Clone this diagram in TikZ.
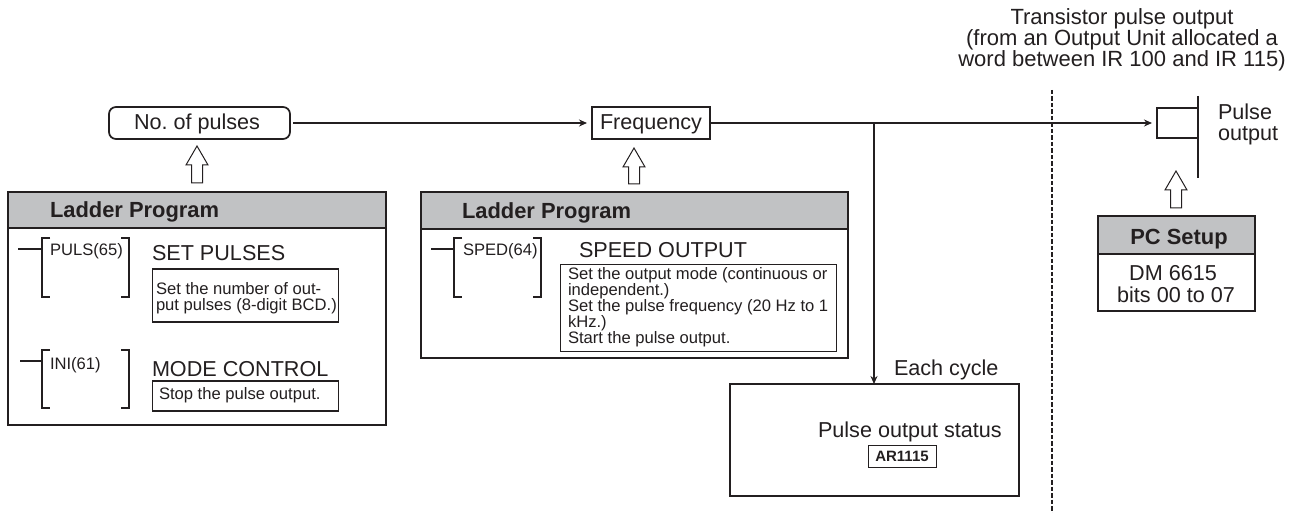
\documentclass[tikz,border=0pt]{standalone}
\usepackage{fontspec}
\setmainfont{Liberation Sans}
\usetikzlibrary{arrows.meta}
\frenchspacing
\definecolor{ink}{HTML}{231F20}
\definecolor{headgrey}{HTML}{C1C2C4}
\newcommand{\bigfs}{\fontsize{21.6}{21}\selectfont\lineskiplimit=-50pt\relax}
\newcommand{\titlefs}{\fontsize{22}{21}\selectfont\lineskiplimit=-50pt\relax}
\newcommand{\smallfs}{\fontsize{16.6}{16}\selectfont\lineskiplimit=-50pt\relax}
\tikzset{
  every node/.style={inner sep=0pt,outer sep=0pt,text=ink},
  big/.style={font=\bigfs,anchor=base west},
  bigc/.style={font=\bigfs,anchor=base},
  heading/.style={font=\fontsize{21.9}{21}\selectfont\bfseries,anchor=base west},
  small/.style={font=\smallfs,anchor=base west},
  boxed/.style={draw=ink,anchor=north west,line width=1.7pt},
  thinbox/.style={draw=ink,anchor=north west,line width=1pt},
  header/.style={draw=ink,fill=headgrey,anchor=north west,line width=1.7pt},
  wire/.style={draw=ink,line width=1.3pt},
  flow/.style={wire,-{Stealth[length=8pt,width=7pt]}},
  brk/.style={draw=ink,line width=1.2pt},
  hollow/.style={draw=ink,line width=1pt,fill=white,line join=miter},
  divider/.style={draw=ink,line width=2.2pt,dash pattern=on 4.5pt off 2pt}
}
\newcommand{\hollowup}[3]{% x, tip y, bottom y
  \draw[hollow] (#1,#2) -- ++(11,19) -- ++(-5.5,0) -- (#1+5.5,#3) -- (#1-5.5,#3) -- (#1-5.5,#2+19) -- ++(-5.5,0) -- cycle;}
\newcommand{\ladderbracket}[5]{% wire start x, left x, right x, top y, bottom y
  \draw[brk] (#2+8,#4) -- (#2,#4) -- (#2,#5) -- (#2+8,#5);
  \draw[brk] (#3-8,#4) -- (#3,#4) -- (#3,#5) -- (#3-8,#5);
  \draw[brk] (#1,#4+11) -- (#2,#4+11);}
\begin{document}
\begin{tikzpicture}[x=1pt,y=-1pt]
\useasboundingbox[fill=white] (0,0) rectangle (1294,513);

% Title
\node[font=\titlefs,align=center,anchor=north] (title) at (1122,8.5) {Transistor pulse output\\(from an Output Unit allocated a\\word between IR 100 and IR 115)};

% Top row
\node[draw=ink,line width=1.7pt,rounded corners=7pt,anchor=north west,minimum width=181pt,minimum height=32pt] (pulses) at (109,107) {};
\node[big] (pulsestext) at (134,130) {No. of pulses};
\node[boxed,line width=2pt,minimum width=118pt,minimum height=32pt] (freq) at (592,107) {};
\node[big] (freqtext) at (600,130) {Frequency};
\node[thinbox,line width=1.2pt,minimum width=41pt,minimum height=30pt] (flag) at (1157,108) {};
\coordinate (barTop) at (1198,96);
\coordinate (barBot) at (1198,178);
\draw[wire] (barTop) -- (barBot);
\node[big] (pulseout1) at (1218,119.5) {Pulse};
\node[big] (pulseout2) at (1218,141) {output};

% Divider
\coordinate (divTop) at (1052,90);
\coordinate (divBot) at (1052,513);
\draw[divider] (divTop) -- (divBot);

% Left ladder box
\node[boxed,minimum width=378pt,minimum height=233pt] (ladA) at (8,192) {};
\node[header,minimum width=378pt,minimum height=36pt] (ladAhead) at (8,192) {};
\node[heading] (ladAtitle) at (50,218) {Ladder Program};
\ladderbracket{18}{42}{129}{238}{297}
\node[small] (puls) at (50,255.5) {PULS(65)};
\node[big] (setp) at (152,261) {SET PULSES};
\node[thinbox,line width=1.2pt,minimum width=186pt,minimum height=53pt] (setbox) at (152.5,269) {};
\node[small,align=left,anchor=north west] (settext) at (156,282) {Set the number of out-\\put pulses (8-digit BCD.)};
\ladderbracket{20}{42}{129}{350}{408}
\node[small] (ini) at (50,369) {INI(61)};
\node[big] (mode) at (152,376) {MODE CONTROL};
\node[thinbox,line width=1.2pt,minimum width=186pt,minimum height=30pt] (stopbox) at (152.5,381) {};
\node[small] (stoptext) at (159,399) {Stop the pulse output.};

% Middle ladder box
\node[boxed,minimum width=427pt,minimum height=166pt] (ladB) at (421,192) {};
\node[header,minimum width=427pt,minimum height=37pt] (ladBhead) at (421,192) {};
\node[heading] (ladBtitle) at (462,218.5) {Ladder Program};
\ladderbracket{431}{454}{541}{238}{297}
\node[small] (sped) at (463,255.5) {SPED(64)};
\node[big] (speed) at (579,258) {SPEED OUTPUT};
\node[thinbox,line width=0.9pt,minimum width=276pt,minimum height=87pt] (spedbox) at (560,264) {};
\node[small,align=left,anchor=north west] (spedtext) at (568,267) {Set the output mode (continuous or\\independent.)\\Set the pulse frequency (20 Hz to 1\\kHz.)\\Start the pulse output.};

% Status box
\node[boxed,minimum width=289pt,minimum height=112pt] (status) at (730,384) {};
\node[big] (each) at (894,375) {Each cycle};
\node[big] (statustext) at (818,437) {Pulse output status};
\node[draw=ink,line width=1pt,anchor=north west,minimum width=68pt,minimum height=22pt,font=\fontsize{15}{15}\selectfont\bfseries] (ar) at (868,445) {AR1115};

% PC setup
\node[boxed,minimum width=157pt,minimum height=95pt] (pc) at (1098,216) {};
\node[header,minimum width=157pt,minimum height=38pt] (pchead) at (1098,216) {};
\node[heading,anchor=base] (pctitle) at (1179,245) {PC Setup};
\node[bigc] (dm) at (1173,281) {DM 6615};
\node[bigc] (bits) at (1176,302) {bits 00 to 07};

% Hollow arrows
\hollowup{197}{146}{183}
\hollowup{634}{148}{184}
\hollowup{1176}{171}{208}

% Connectors
\coordinate (junction) at (874,123);
\draw[flow,shorten <=3pt,shorten >=5pt] (pulses.east) -- (freq.west);
\draw[flow,shorten >=5pt] (freq.east) -- (flag.west);
\draw[flow] (junction) -- (junction |- status.north);
\end{tikzpicture}
\end{document}
